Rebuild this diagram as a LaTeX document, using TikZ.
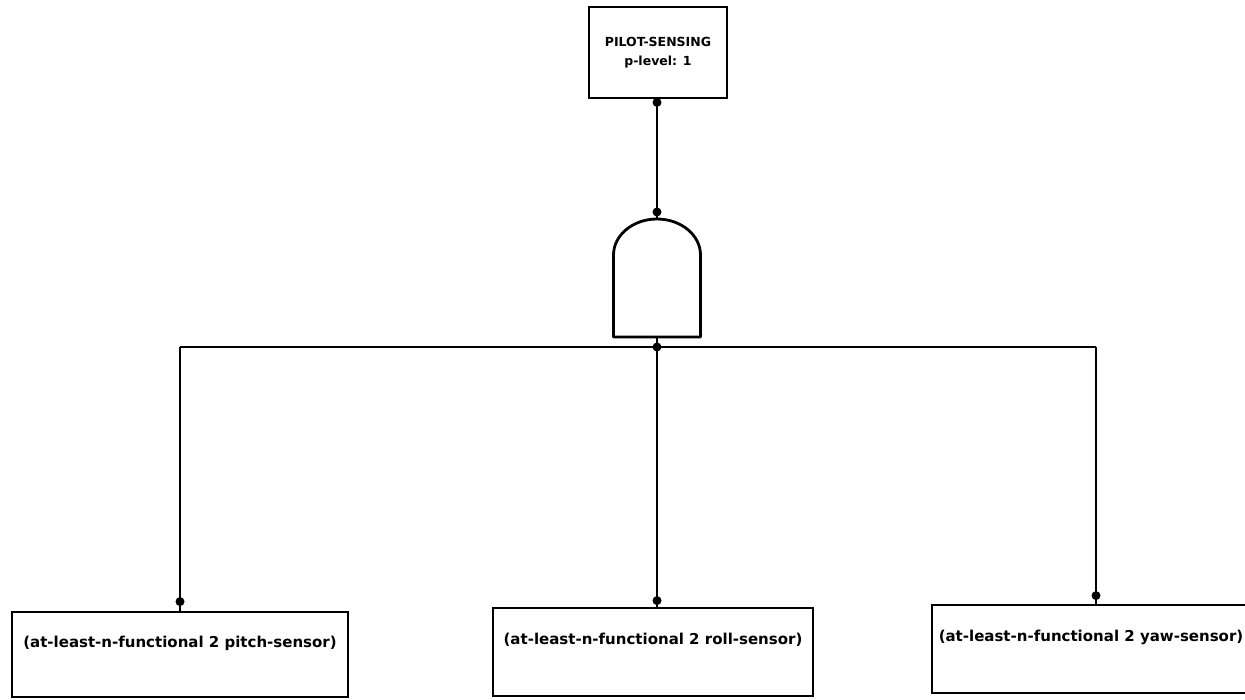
\documentclass[tikz,border=0pt]{standalone}
\usepackage{fontspec}
\setmainfont{DejaVu Sans}
\begin{document}
\begin{tikzpicture}[x=1pt,y=-1pt,
  eventbox/.style={draw, line width=2.8pt, rectangle, inner sep=0pt, font=\bfseries\fontsize{12.5}{19}\selectfont, align=center},
  childbox/.style={draw, line width=2.8pt, rectangle, inner sep=0pt, font=\bfseries\fontsize{15}{16}\selectfont, text height=11pt, text depth=26pt},
  wire/.style={line width=2.2pt},
  joint/.style={fill=black, circle, inner sep=0pt, minimum size=9pt},
  gateline/.style={line width=2.8pt, line join=round}]
\useasboundingbox (0,0) rectangle (1245,699);

% top event
\node[eventbox, minimum width=138pt, minimum height=91pt] (top) at (658,52.5)
  {PILOT-SENSING\\p-level: 1};

% AND gate
\coordinate (gtop) at (657,219);
\coordinate (gbot) at (657,337);
\draw[gateline] (613.5,337) -- (613.5,255) arc[start angle=180, end angle=360, x radius=43.5, y radius=36] -- (700.5,337) -- cycle;

% child events
\node[childbox, minimum width=336pt, minimum height=85pt] (c1) at (180,654.5)
  {(at-least-n-functional 2 pitch-sensor)};
\node[childbox, minimum width=320pt, minimum height=88pt] (c2) at (653,652)
  {(at-least-n-functional 2 roll-sensor)};
\node[childbox, minimum width=318pt, minimum height=88pt] (c3) at (1091,649)
  {(at-least-n-functional 2 yaw-sensor)};

% connectors
\coordinate (bus) at (657,347);
\coordinate (j1) at (180,347);
\coordinate (j3) at (1096,347);
\draw[wire] (gtop |- top.south) -- (gtop);
\draw[wire] (gbot) -- (bus);
\draw[wire] (j1) -- (j3);
\draw[wire] (j1) -- (c1.north);
\draw[wire] (bus) -- (bus |- c2.north);
\draw[wire] (j3) -- (j3 |- c3.north);

% junction dots
\node[joint] at ([yshift=-3pt]gtop |- top.south) {};
\node[joint] at ([yshift=7pt]gtop) {};
\node[joint] at (bus) {};
\node[joint] at ([yshift=9pt]c1.north) {};
\node[joint] at ([yshift=6pt]bus |- c2.north) {};
\node[joint] at ([yshift=8pt]j3 |- c3.north) {};
\end{tikzpicture}
\end{document}
